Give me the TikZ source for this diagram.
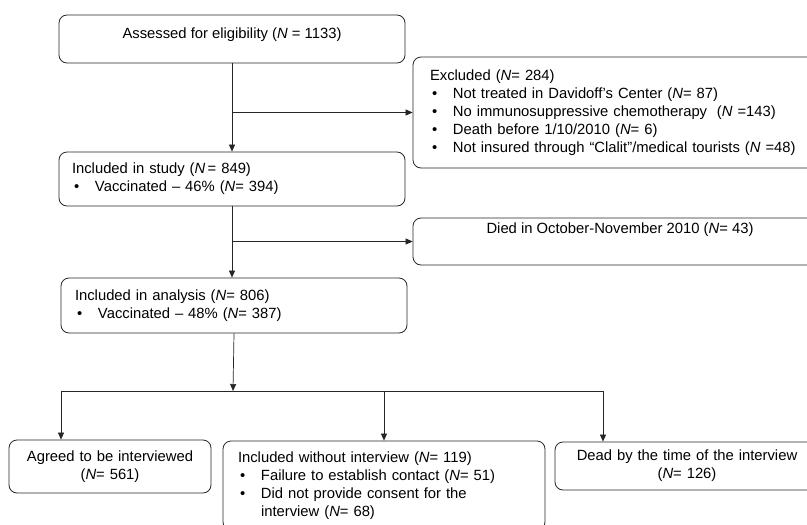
\documentclass[tikz,border=0pt]{standalone}
\usepackage{fontspec}
\setmainfont{Liberation Sans}
\usetikzlibrary{arrows.meta}
\newcommand{\Ni}{\textit{N}}
\newcommand{\bul}{\makebox[23pt][l]{\hspace{2pt}\textbullet}}

\begin{document}
\begin{tikzpicture}[x = 1pt, y = -1pt, font = \fontsize{14.8}{18}\selectfont,
	box/.style = {rectangle, rounded corners = 8pt, draw = black!85, line width = 0.8pt, inner ysep = 0pt},
	arr/.style = {draw = black!85, line width = 0.7pt, -{Triangle[length = 7pt, width = 6pt]}}]

	\useasboundingbox (0, 0) rectangle (807, 525);

	\node [box, minimum width = 346pt, text height = 23pt, text depth = 25pt] (assess) at (232, 39) {Assessed for eligibility (\Ni\ = 1133)};
	\node [box, minimum width = 346pt, minimum height = 54pt, inner xsep = 13pt, text width = 320pt, align = left] (study) at (232, 179) {Included in study (\Ni\,= 849)\\ \bul Vaccinated -- 46\% (\Ni= 394)};
	\node [box, minimum width = 417pt, minimum height = 111pt, inner xsep = 17pt, text width = 383pt, align = left] (excl) at (621.5, 112.5) {Excluded (\Ni= 284)\\ \bul Not treated in Davidoff's Center (\Ni= 87)\\ \bul No immunosuppressive chemotherapy\ \ (\Ni\ =143)\\ \bul Death before 1/10/2010 (\Ni= 6)\\ \bul Not insured through ``Clalit''/medical tourists (\Ni\ =48)};
	\node [box, minimum width = 414pt, text height = 15pt, text depth = 32pt] (died) at (620, 241.5) {Died in October-November 2010 (\Ni= 43)};
	\node [box, minimum width = 346pt, minimum height = 55pt, inner xsep = 14pt, text width = 318pt, align = left] (analysis) at (234, 305.5) {Included in analysis (\Ni= 806)\\ \bul Vaccinated -- 48\% (\Ni= 387)};

	\node [box, minimum width = 202pt, minimum height = 53pt, inner xsep = 6pt, text width = 190pt, align = center] (agreed) at (110, 466.5) {Agreed to be interviewed\\ (\Ni= 561)};
	\node [box, minimum width = 322pt, minimum height = 89pt, inner xsep = 15pt, text width = 292pt, align = left] (without) at (384, 485.5) {Included without interview (\Ni= 119)\\ \bul Failure to establish contact (\Ni= 51)\\ \bul Did not provide consent for the\\ \hspace*{23pt}interview (\Ni= 68)};
	\node [box, minimum width = 264pt, minimum height = 48pt, inner xsep = 6pt, text width = 252pt, align = center] (dead) at (687, 466) {Dead by the time of the interview\\ (\Ni= 126)};

	\coordinate (split) at (233, 391);
	\coordinate (busl) at (61, 391);
	\coordinate (busr) at (603, 391);

	\draw [arr] (assess) -- (study);
	\draw [arr] (assess.south |- excl.west) -- (excl.west);
	\draw [arr] (study.south) -- (study.south |- analysis.north);
	\draw [arr] (study.south |- died.west) -- (died.west);
	\draw [arr] (analysis.south) -- (split);
	\draw [draw = black!85, line width = 0.7pt] (busl) -- (busr);
	\draw [arr] (busl) -- (busl |- agreed.north);
	\draw [arr] (without.north |- busl) -- (without.north);
	\draw [arr] (busr) -- (busr |- dead.north);

\end{tikzpicture}
\end{document}
